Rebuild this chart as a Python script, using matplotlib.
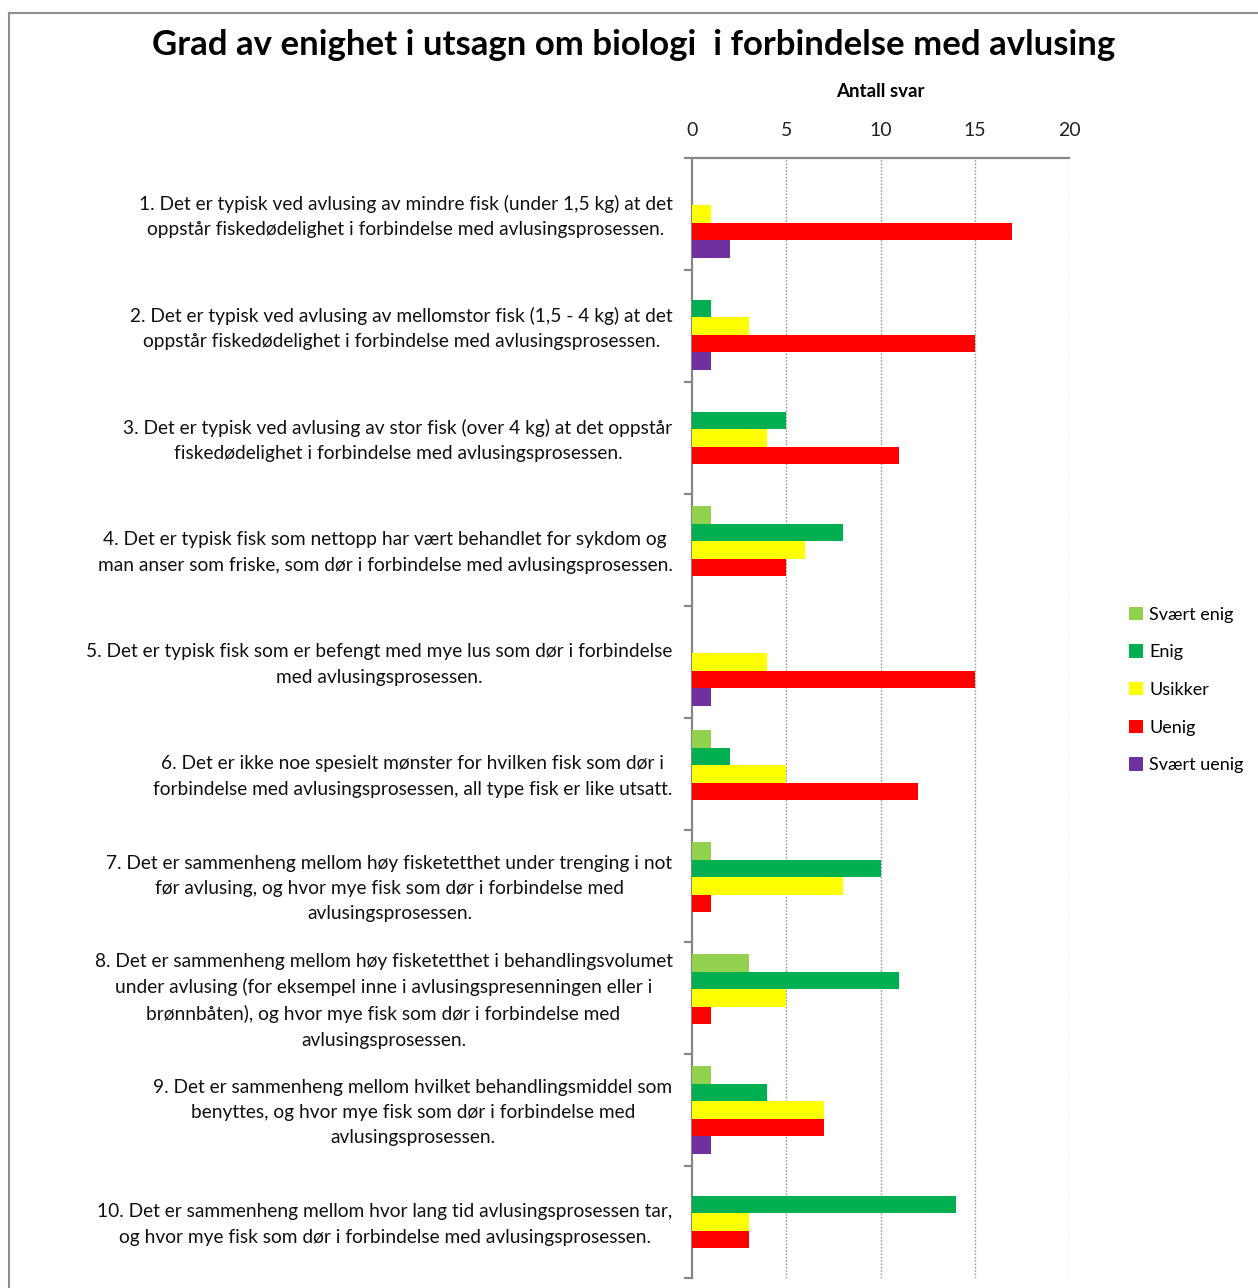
import matplotlib
matplotlib.use("Agg")
import matplotlib.pyplot as plt
from matplotlib.lines import Line2D
from matplotlib.patches import Patch
import numpy as np

plt.rcParams['font.family'] = ['Lato', 'DejaVu Sans']

categories = [
    "1. Det er typisk ved avlusing av mindre fisk (under 1,5 kg) at det\noppstår fiskedødelighet i forbindelse med avlusingsprosessen.",
    "2. Det er typisk ved avlusing av mellomstor fisk (1,5 - 4 kg) at det\noppstår fiskedødelighet i forbindelse med avlusingsprosessen.",
    "3. Det er typisk ved avlusing av stor fisk (over 4 kg) at det oppstår\nfiskedødelighet i forbindelse med avlusingsprosessen.",
    "4. Det er typisk fisk som nettopp har vært behandlet for sykdom og\nman anser som friske, som dør i forbindelse med avlusingsprosessen.",
    "5. Det er typisk fisk som er befengt med mye lus som dør i forbindelse\nmed avlusingsprosessen.",
    "6. Det er ikke noe spesielt mønster for hvilken fisk som dør i\nforbindelse med avlusingsprosessen, all type fisk er like utsatt.",
    "7. Det er sammenheng mellom høy fisketetthet under trenging i not\nfør avlusing, og hvor mye fisk som dør i forbindelse med\navlusingsprosessen.",
    "8. Det er sammenheng mellom høy fisketetthet i behandlingsvolumet\nunder avlusing (for eksempel inne i avlusingspresenningen eller i\nbrønnbåten), og hvor mye fisk som dør i forbindelse med\navlusingsprosessen.",
    "9. Det er sammenheng mellom hvilket behandlingsmiddel som\nbenyttes, og hvor mye fisk som dør i forbindelse med\navlusingsprosessen.",
    "10. Det er sammenheng mellom hvor lang tid avlusingsprosessen tar,\nog hvor mye fisk som dør i forbindelse med avlusingsprosessen.",
]

series_names = ["Svært enig", "Enig", "Usikker", "Uenig", "Svært uenig"]
svaert_enig = [0, 0, 0, 1, 0, 1, 1, 3, 1, 0]
enig        = [0, 1, 5, 8, 0, 2, 10, 11, 4, 14]
usikker     = [1, 3, 4, 6, 4, 5, 8, 5, 7, 3]
uenig       = [17, 15, 11, 5, 15, 12, 1, 1, 7, 3]
svaert_uenig = [2, 1, 0, 0, 1, 0, 0, 0, 1, 0]
series = [svaert_enig, enig, usikker, uenig, svaert_uenig]
colors = ["#92D050", "#00B050", "#FFFF00", "#FF0000", "#7030A0"]

title = "Grad av enighet i utsagn om biologi  i forbindelse med avlusing"
xlabel = "Antall svar"
xticks = [0, 5, 10, 15, 20]

W, H = 1258, 1288
fig = plt.figure(figsize=(W / 100, H / 100), dpi=100)
ax = fig.add_axes([692 / W, 1 - 1278 / H, (1069 - 692) / W, (1278 - 158) / H])

n = len(categories)
y = np.arange(n)
bh = 0.156
for j, (vals, col, name) in enumerate(zip(series, colors, series_names)):
    ax.barh(y + (j - 2) * bh, vals, height=bh, color=col, edgecolor='none', label=name, zorder=3)

ax.set_xlim(0, 20)
ax.set_ylim(n - 0.5, -0.5)
ax.xaxis.tick_top()
ax.xaxis.set_label_position('top')
ax.set_xticks(xticks)
ax.set_xticklabels([str(t) for t in xticks], fontsize=14, color='#222222')
ax.tick_params(axis='x', length=0, pad=14)
ax.set_xlabel(xlabel, fontsize=13.5, fontweight='bold', labelpad=18)

ax.set_yticks(y)
ax.set_yticklabels(categories, fontsize=13.8, color='#111111', multialignment='center', linespacing=1.59)
ax.tick_params(axis='y', length=0, pad=14)
for lbl in ax.get_yticklabels():
    lbl.set_y(lbl.get_position()[1])
    lbl.set_transform(lbl.get_transform() + matplotlib.transforms.ScaledTranslation(0, 3 / 100, fig.dpi_scale_trans))
ax.set_yticks(np.arange(n + 1) - 0.5, minor=True)
ax.tick_params(axis='y', which='minor', length=6, width=1.5, color='#868686')

for s in ['right', 'bottom']:
    ax.spines[s].set_visible(False)
for s in ['top', 'left']:
    ax.spines[s].set_color('#868686')
    ax.spines[s].set_linewidth(1.6)

for t in xticks[1:]:
    ax.axvline(t, color='#9a9a9a', linestyle=(0, (1.2, 1.2)), linewidth=1.0, zorder=1)

handles = [Patch(facecolor=c, edgecolor='none') for c in colors]
fig.legend(handles, series_names, loc='center left', bbox_to_anchor=(1122 / W, 1 - 690 / H),
           frameon=False, fontsize=13, handlelength=0.75, handleheight=0.75,
           handletextpad=0.35, labelspacing=1.2, borderaxespad=0)

fig.text(634 / W, 1 - 45 / H, title, ha='center', va='center', fontsize=25, fontweight='bold')

fig.add_artist(Line2D([9 / W, 1], [1 - 13 / H, 1 - 13 / H], transform=fig.transFigure, color='#8c8c8c', linewidth=1.5))
fig.add_artist(Line2D([9 / W, 9 / W], [0, 1 - 13 / H], transform=fig.transFigure, color='#8c8c8c', linewidth=1.5))

fig.savefig("out.png", dpi=100)
